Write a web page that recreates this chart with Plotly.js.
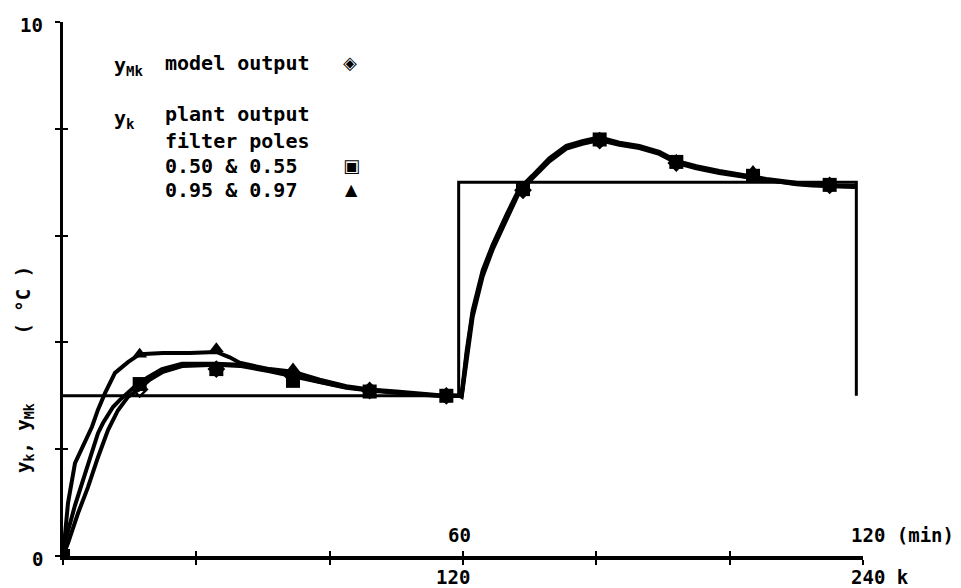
<!DOCTYPE html>
<html>
<head>
<meta charset="utf-8">
<script src="https://cdn.plot.ly/plotly-3.0.1.min.js"></script>
<style>html,body{margin:0;padding:0;background:#fff;}#chart{width:961px;height:588px;}</style>
</head>
<body>
<div id="chart"></div>
<script>
// ---- data (k = sample index, y in degC) ----
const setpointK = [0, 118.7, 118.7, 238, 238];
const setpointY = [3, 3, 7, 7, 3];

// plant output, filter poles 0.95 & 0.97 (triangles)
const plantFastK = [0,1.5,3.6,6.6,8.7,10.5,12.6,15.6,19.5,23,30,38,46,50,53,58,62,69,77,85,92,100,107,113,119,
  119.6,121.1,122.9,125.9,128.9,133.1,136.9,140.8,145.9,151,155.8,160.9,166.9,172.9,178.9,184,190,196.9,205,211,220,224.8,230.7,237.9];
const plantFastY = [0,0.99,1.74,2.13,2.42,2.74,3.05,3.43,3.63,3.78,3.80,3.80,3.82,3.72,3.62,3.55,3.50,3.45,3.30,3.18,3.12,3.08,3.04,3.01,3.0,
  3.03,3.84,4.60,5.35,5.83,6.40,6.88,7.12,7.45,7.68,7.77,7.84,7.74,7.68,7.57,7.40,7.30,7.21,7.12,7.06,6.99,6.96,6.94,6.93];

// plant output, filter poles 0.50 & 0.55 (squares)
const plantSlowK = [0,1,3.6,6.6,10.5,12,15,17,19.5,22,25.5,29.7,35.7,46,53,62,69,77,85,92,100,107,113,119,
  119.6,121.1,122.9,125.9,128.9,133.1,136.9,140.8,145.9,151,155.8,160.9,166.9,172.9,178.9,184,190,196.9,205,211,220,224.8,230.7,237.9];
const plantSlowY = [0,0.35,0.95,1.55,2.30,2.49,2.79,2.92,3.05,3.20,3.35,3.50,3.60,3.60,3.58,3.48,3.39,3.26,3.16,3.11,3.06,3.03,3.0,3.0,
  3.0,3.78,4.55,5.30,5.79,6.35,6.85,7.10,7.42,7.66,7.75,7.82,7.72,7.66,7.55,7.38,7.28,7.19,7.10,7.04,6.97,6.95,6.93,6.92];

// model output (diamonds)
const modelK = [0,1.5,4.5,7.5,10.5,13.5,16.5,19.5,22.5,26,30,36,46,53,62,69,77,85,92,100,107,113,119,
  119.6,121.1,122.9,125.9,128.9,133.1,136.9,140.8,145.9,151,155.8,160.9,166.9,172.9,178.9,184,190,196.9,205,211,220,224.8,230.7,237.9];
const modelY = [0,0.24,0.80,1.29,1.85,2.36,2.73,2.98,3.11,3.30,3.45,3.56,3.58,3.56,3.46,3.37,3.25,3.15,3.10,3.05,3.02,3.0,3.0,
  2.98,3.70,4.48,5.24,5.74,6.31,6.82,7.07,7.39,7.63,7.72,7.79,7.70,7.64,7.53,7.36,7.26,7.17,7.09,7.03,6.96,6.94,6.92,6.91];

// marker samples
const squareK = [0,23,46,69,92,115,138,161,184,207,230];
const squareY = [0,3.22,3.50,3.28,3.08,3.0,6.87,7.80,7.38,7.12,6.95];
const triangleK = [23,46,69,207];
const triangleY = [3.78,3.88,3.50,7.20];
const diamondK = [23,46,69,92,115,138,161,184,230];
const diamondY = [3.12,3.50,3.36,3.10,3.0,6.85,7.78,7.36,6.94];

const xTicks = [0,40,80,120,160,200,240];
const yTicks = [0,2,4,6,8,10];
const yLabels = [{v:0, text:'0'}, {v:10, text:'10'}];
const xLabelsBelow = [{k:120, text:'120'}, {k:240, text:'240 k'}];
const xLabelsAbove = [{k:120, text:'60'}, {k:240, text:'120 (min)'}];

// ---- chart ----
const FONT = 'DejaVu Sans Mono, monospace';
const lineStyle = {color:'#000', width:4};
const textFont = {family:FONT, size:19, color:'#000', weight:'bold'};

const traces = [
  {x:setpointK, y:setpointY, mode:'lines', line:{color:'#000', width:3}, xaxis:'x2', yaxis:'y2', hoverinfo:'skip'},
  {x:modelK, y:modelY, mode:'lines', line:lineStyle},
  {x:plantSlowK, y:plantSlowY, mode:'lines', line:lineStyle},
  {x:plantFastK, y:plantFastY, mode:'lines', line:lineStyle},
  {x:diamondK, y:diamondY, mode:'markers', marker:{symbol:'diamond-open-dot', size:11, color:'#000', line:{width:2.5, color:'#000'}}},
  {x:triangleK, y:triangleY, mode:'markers', marker:{symbol:'triangle-up', size:13, color:'#000'}},
  {x:squareK, y:squareY, mode:'markers', marker:{symbol:'square', size:14, color:'#000'}}
];

function pxX(px){ return (px-63)/800; }
function pxY(py){ return (556-py)/534; }
function ann(text, px, py, xanchor, extra){
  return Object.assign({text:text, xref:'paper', yref:'paper', x:pxX(px), y:pxY(py), xanchor:xanchor||'left', yanchor:'middle', showarrow:false, font:{family:FONT, size:20, color:'#000', weight:'bold'}}, extra||{});
}

const annotations = [
  ann('y<sub>Mk</sub>', 112, 66),
  ann('model output', 163, 63),
  ann('◈', 350, 63, 'center', {font:{family:'DejaVu Sans', size:18, color:'#000'}}),
  ann('y<sub>k</sub>', 112, 119),
  ann('plant output', 163, 114),
  ann('filter poles', 163, 141),
  ann('0.50 &amp; 0.55', 163, 166),
  ann('▣', 351, 165, 'center', {font:{family:'DejaVu Sans', size:18, color:'#000'}}),
  ann('0.95 &amp; 0.97', 163, 190),
  ann('▲', 351, 189, 'center', {font:{family:'DejaVu Sans', size:16, color:'#000'}}),
  {text:'y<sub>k</sub>, y<sub>Mk</sub>      ( °C )', xref:'paper', yref:'paper', x:pxX(24), y:pxY(370), xanchor:'center', yanchor:'middle', textangle:-90, showarrow:false, font:textFont}
];
yLabels.forEach(function(l){
  annotations.push({text:l.text, xref:'x', yref:'y', x:0, y:l.v, xanchor:'right', yanchor:'middle', xshift:-18, yshift:-3, showarrow:false, font:textFont});
});
xLabelsAbove.forEach(function(l, i){
  annotations.push({text:l.text, xref:'x', yref:'y', x:l.k, y:0, xanchor:i===0?'center':'left', yanchor:'bottom', yshift:8, xshift:i===0?-4:-14, showarrow:false, font:textFont});
});
xLabelsBelow.forEach(function(l, i){
  annotations.push({text:l.text, xref:'x', yref:'y', x:l.k, y:0, xanchor:i===0?'center':'left', yanchor:'top', yshift:-8, xshift:i===0?-10:-14, showarrow:false, font:textFont});
});

const axisCommon = {showgrid:false, zeroline:false, linecolor:'#000', tickcolor:'#000', tickwidth:2, ticklen:5, ticks:'outside', showticklabels:false};

const layout = {
  width:961, height:588,
  margin:{l:63, r:98, t:22, b:32},
  paper_bgcolor:'#fff', plot_bgcolor:'#fff',
  showlegend:false,
  font:{family:FONT, color:'#000'},
  xaxis:Object.assign({}, axisCommon, {range:[0,240], tickvals:xTicks, showline:true, linewidth:3.5}),
  yaxis:Object.assign({}, axisCommon, {range:[0,10], tickvals:yTicks, showline:true, linewidth:3}),
  xaxis2:{overlaying:'x', anchor:'y2', range:[0,240], tickvals:xTicks, ticks:'inside', ticklen:5, tickwidth:2, tickcolor:'#000', showticklabels:false, showline:false, showgrid:false, zeroline:false},
  yaxis2:{overlaying:'y', anchor:'x2', range:[0,10], tickvals:yTicks, ticks:'inside', ticklen:5, tickwidth:2, tickcolor:'#000', showticklabels:false, showline:false, showgrid:false, zeroline:false},
  annotations:annotations
};

Plotly.newPlot('chart', traces, layout, {staticPlot:true, displayModeBar:false});
</script>
</body>
</html>
